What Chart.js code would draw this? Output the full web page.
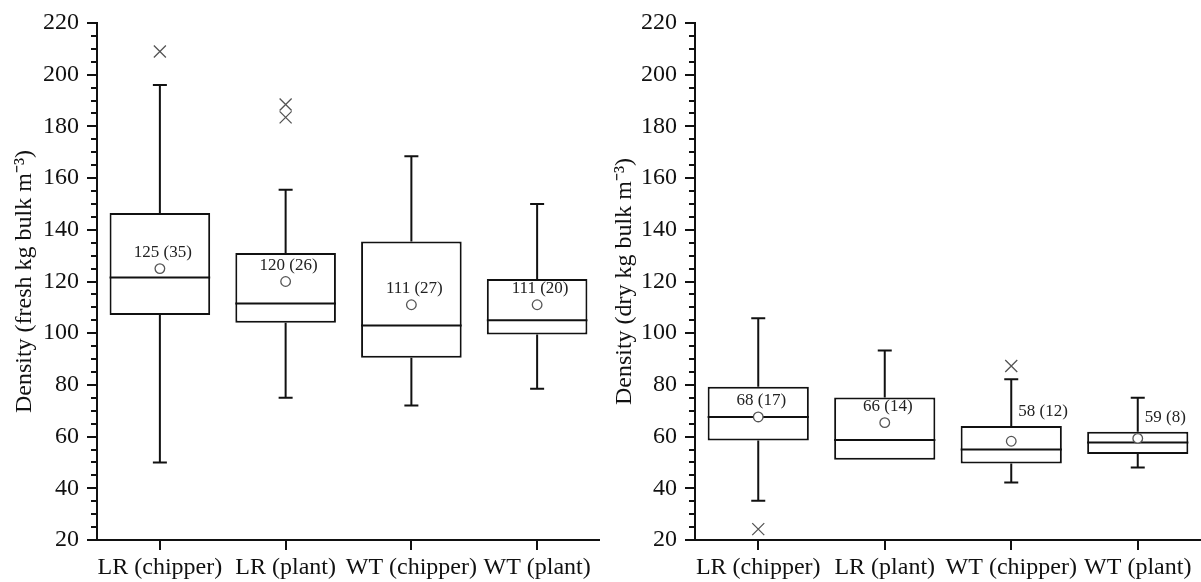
<!DOCTYPE html>
<html>
<head>
<meta charset="utf-8">
<script src="https://cdn.jsdelivr.net/npm/chart.js@4"></script>
<style>
body { margin: 0; background: #fff; }
#wrap { position: relative; width: 1201px; height: 582px; }
canvas { position: absolute; top: 0; }
</style>
</head>
<body>
<div id="wrap">
  <canvas id="fresh" width="600" height="582" style="left:0"></canvas>
  <canvas id="dry" width="601" height="582" style="left:600px"></canvas>
</div>
<script>
var categories = ['LR (chipper)', 'LR (plant)', 'WT (chipper)', 'WT (plant)'];

// fresh density (kg bulk m-3)
var freshMin = [50, 75, 72, 78.5];
var freshQ1 = [107, 104, 90.5, 99.5];
var freshMedian = [121.5, 111.5, 103, 105];
var freshQ3 = [146.5, 131, 135.5, 121];
var freshMax = [196, 155.5, 168.5, 150];
var freshMean = [125, 120, 111, 111];
var freshOutliers = [[209], [188.5, 183.5], [], []];
var freshLabels = ['125 (35)', '120 (26)', '111 (27)', '111 (20)'];

// dry density (kg bulk m-3)
var dryMin = [35.2, 51, 42.2, 48];
var dryQ1 = [58.5, 51, 49.6, 53.3];
var dryMedian = [67.6, 58.7, 55, 57.7];
var dryQ3 = [79.3, 75.1, 64.1, 61.9];
var dryMax = [105.8, 93.3, 82.2, 75];
var dryMean = [67.6, 65.4, 58.2, 59.3];
var dryOutliers = [[24.2], [], [87.3], []];
var dryLabels = ['68 (17)', '66 (14)', '58 (12)', '59 (8)'];

var yTicks = [20, 40, 60, 80, 100, 120, 140, 160, 180, 200, 220];

var ink = '#111';
var serif = '"Liberation Serif", "Times New Roman", serif';

var boxParts = {
    id: 'boxParts',
    afterDatasetDraw: function(chart, args, opts) {
        if (args.index !== 0) return;
        var ctx = chart.ctx, y = chart.scales.y;
        var bars = args.meta.data;
        ctx.save();
        ctx.strokeStyle = ink;
        ctx.lineWidth = 2;
        for (var i = 0; i < bars.length; i++) {
            var cx = bars[i].x, w = bars[i].width / 2;
            ctx.beginPath();
            // median
            ctx.moveTo(cx - w, y.getPixelForValue(opts.median[i]));
            ctx.lineTo(cx + w, y.getPixelForValue(opts.median[i]));
            // whiskers, no cap when the whisker has no length
            if (opts.max[i] > opts.q3[i]) {
                ctx.moveTo(cx, y.getPixelForValue(opts.q3[i]));
                ctx.lineTo(cx, y.getPixelForValue(opts.max[i]));
                ctx.moveTo(cx - 7, y.getPixelForValue(opts.max[i]));
                ctx.lineTo(cx + 7, y.getPixelForValue(opts.max[i]));
            }
            if (opts.min[i] < opts.q1[i]) {
                ctx.moveTo(cx, y.getPixelForValue(opts.q1[i]));
                ctx.lineTo(cx, y.getPixelForValue(opts.min[i]));
                ctx.moveTo(cx - 7, y.getPixelForValue(opts.min[i]));
                ctx.lineTo(cx + 7, y.getPixelForValue(opts.min[i]));
            }
            ctx.stroke();
        }
        ctx.restore();
    },
    afterDatasetsDraw: function(chart, args, opts) {
        var ctx = chart.ctx, y = chart.scales.y;
        var left = chart.chartArea.left;
        var bars = chart.getDatasetMeta(0).data;
        ctx.save();
        // minor ticks every 5
        ctx.strokeStyle = ink;
        ctx.lineWidth = 2;
        ctx.beginPath();
        for (var v = y.min; v <= y.max; v += 5) {
            if (v % 20 === 0) continue;
            var py = Math.round(y.getPixelForValue(v));
            ctx.moveTo(left - 6, py);
            ctx.lineTo(left, py);
        }
        ctx.stroke();
        // mean (sd) labels
        ctx.fillStyle = '#222';
        ctx.font = '17px ' + serif;
        ctx.textBaseline = 'middle';
        for (var i = 0; i < bars.length; i++) {
            if (opts.beside[i]) {
                ctx.textAlign = 'left';
                ctx.fillText(opts.labels[i], bars[i].x + 7, y.getPixelForValue(opts.q3[i]) - 14);
            } else {
                ctx.textAlign = 'center';
                ctx.fillText(opts.labels[i], bars[i].x + 3, y.getPixelForValue(opts.mean[i]) - 16);
            }
        }
        ctx.restore();
    }
};

function makeChart(id, title, yWidth, min, q1, median, q3, max, mean, outliers, labels, beside) {
    var outlierPts = [];
    outliers.forEach(function(list, i) {
        list.forEach(function(v) { outlierPts.push({x: categories[i], y: v}); });
    });
    return new Chart(document.getElementById(id), {
        type: 'bar',
        data: {
            labels: categories,
            datasets: [{
                data: q1.map(function(v, i) { return [v, q3[i]]; }),
                backgroundColor: '#fff',
                borderColor: ink,
                borderWidth: 2,
                borderSkipped: false,
                barPercentage: 0.8,
                categoryPercentage: 1,
                order: 3
            }, {
                type: 'line',
                data: outlierPts,
                showLine: false,
                pointStyle: 'crossRot',
                pointRadius: 8.5,
                pointBorderWidth: 1.3,
                pointBorderColor: '#555',
                order: 2
            }, {
                type: 'line',
                data: mean.map(function(v, i) { return {x: categories[i], y: v}; }),
                showLine: false,
                pointStyle: 'circle',
                pointRadius: 4.8,
                pointBorderWidth: 1.3,
                pointBorderColor: '#555',
                pointBackgroundColor: '#fff',
                order: 1
            }]
        },
        options: {
            responsive: false,
            animation: false,
            layout: { autoPadding: false, padding: { top: 23, right: 0, left: 0, bottom: 0 } },
            plugins: {
                legend: { display: false },
                tooltip: { enabled: false },
                boxParts: { min: min, q1: q1, median: median, q3: q3, max: max, mean: mean, labels: labels, beside: beside }
            },
            scales: {
                x: {
                    grid: { drawOnChartArea: false, offset: false, tickLength: 10, color: ink, lineWidth: 2 },
                    border: { color: ink, width: 2 },
                    ticks: { color: ink, font: { family: serif, size: 24 }, padding: 3, maxRotation: 0, autoSkip: false },
                    afterFit: function(s) { s.height = 42; }
                },
                y: {
                    min: yTicks[0],
                    max: yTicks[yTicks.length - 1],
                    afterBuildTicks: function(s) { s.ticks = yTicks.map(function(v) { return {value: v}; }); },
                    grid: { drawOnChartArea: false, tickLength: 10, color: ink, lineWidth: 2 },
                    border: { color: ink, width: 2 },
                    ticks: { color: ink, font: { family: serif, size: 24 }, padding: 8 },
                    title: { display: true, text: title, color: ink, font: { family: serif, size: 24 }, padding: { top: 10, bottom: 0 } },
                    afterFit: function(s) { s.width = yWidth; }
                }
            }
        },
        plugins: [boxParts]
    });
}

makeChart('fresh', 'Density (fresh kg bulk m\u207B\u00B3)', 97,
    freshMin, freshQ1, freshMedian, freshQ3, freshMax, freshMean, freshOutliers, freshLabels,
    [false, false, false, false]);
makeChart('dry', 'Density (dry kg bulk m\u207B\u00B3)', 95,
    dryMin, dryQ1, dryMedian, dryQ3, dryMax, dryMean, dryOutliers, dryLabels,
    [false, false, true, true]);
</script>
</body>
</html>
